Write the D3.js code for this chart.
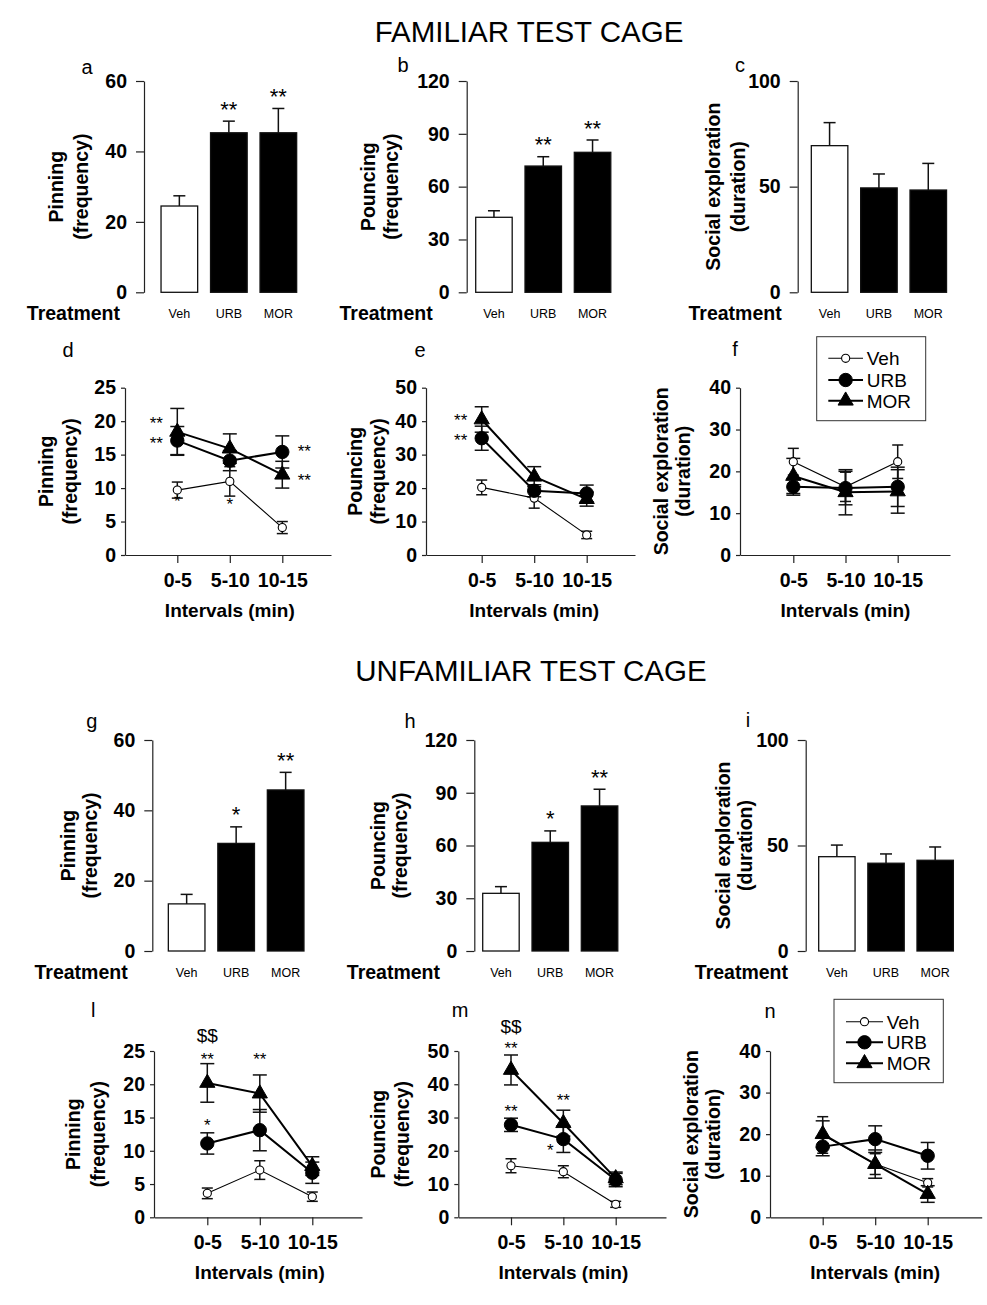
<!DOCTYPE html>
<html><head><meta charset="utf-8">
<script src="https://cdn.jsdelivr.net/npm/d3@7"></script>
<style>body{margin:0;background:#fff}svg{display:block}</style>
</head><body><svg id="chart" width="987" height="1305"></svg>
<script>
// ---------------- DATA ----------------
const treatments = ["Veh", "URB", "MOR"];
const intervals = ["0-5", "5-10", "10-15"];
const seriesNames = ["Veh", "URB", "MOR"];

const pinningBarTicks = [0, 20, 40, 60];
const pouncingBarTicks = [0, 30, 60, 90, 120];
const socialBarTicks = [0, 50, 100];
const pinningLineTicks = [0, 5, 10, 15, 20, 25];
const pouncingLineTicks = [0, 10, 20, 30, 40, 50];
const socialLineTicks = [0, 10, 20, 30, 40];

// Familiar test cage – totals
const famPinningMean = [24.5, 45.3, 45.3];
const famPinningSem = [2.9, 3.3, 6.9];
const famPinningSig = ["", "**", "**"];
const famPouncingMean = [42.6, 71.7, 79.5];
const famPouncingSem = [3.7, 5.3, 7.0];
const famPouncingSig = ["", "**", "**"];
const famSocialMean = [69.4, 49.4, 48.4];
const famSocialSem = [10.9, 6.6, 12.6];
const famSocialSig = ["", "", ""];

// Unfamiliar test cage – totals
const unfPinningMean = [13.4, 30.6, 45.8];
const unfPinningSem = [2.7, 4.7, 5.0];
const unfPinningSig = ["", "*", "**"];
const unfPouncingMean = [32.8, 61.8, 82.5];
const unfPouncingSem = [3.8, 6.5, 9.5];
const unfPouncingSig = ["", "*", "**"];
const unfSocialMean = [44.7, 41.6, 43.0];
const unfSocialSem = [5.5, 4.4, 6.3];
const unfSocialSig = ["", "", ""];

// Familiar – time course (Veh, URB, MOR)
const famPinVeh = [9.7, 11.0, 4.1],  famPinVehSem = [1.2, 2.2, 0.9];
const famPinUrb = [17.1, 14.1, 15.4], famPinUrbSem = [2.1, 1.5, 2.4];
const famPinMor = [18.4, 15.9, 12.0], famPinMorSem = [3.5, 2.2, 2.0];
const famPinAnn = [
  {interval: "0-5", value: 20.3, text: "**", side: "left"},
  {interval: "0-5", value: 17.3, text: "**", side: "left"},
  {interval: "10-15", value: 16.1, text: "**", side: "right"},
  {interval: "10-15", value: 11.7, text: "**", side: "right"},
  {interval: "0-5", value: 8.6, text: "*", side: "center"},
  {interval: "5-10", value: 8.1, text: "*", side: "center"}
];

const famPouVeh = [20.2, 17.0, 6.0],  famPouVehSem = [2.2, 3.0, 1.1];
const famPouUrb = [34.9, 19.2, 18.4], famPouUrbSem = [3.6, 1.8, 2.5];
const famPouMor = [40.5, 23.4, 16.7], famPouMorSem = [3.8, 3.0, 2.1];
const famPouAnn = [
  {interval: "0-5", value: 41.5, text: "**", side: "left"},
  {interval: "0-5", value: 35.6, text: "**", side: "left"}
];

const famSocVeh = [22.3, 16.3, 22.3], famSocVehSem = [3.2, 3.5, 4.0];
const famSocUrb = [16.3, 16.0, 16.3], famSocUrbSem = [2.0, 4.0, 4.7];
const famSocMor = [18.9, 15.0, 15.2], famSocMorSem = [4.2, 5.4, 5.2];
const famSocAnn = [];

// Unfamiliar – time course
const unfPinVeh = [3.6, 7.1, 3.1],   unfPinVehSem = [0.8, 1.4, 0.7];
const unfPinUrb = [11.1, 13.1, 6.7], unfPinUrbSem = [1.6, 3.1, 1.6];
const unfPinMor = [20.2, 18.6, 7.7], unfPinMorSem = [2.9, 2.8, 1.4];
const unfPinAnn = [
  {interval: "0-5", value: 27.4, text: "$$", side: "center"},
  {interval: "0-5", value: 24.4, text: "**", side: "center"},
  {interval: "5-10", value: 24.4, text: "**", side: "center"},
  {interval: "0-5", value: 14.4, text: "*", side: "center"}
];

const unfPouVeh = [15.5, 13.7, 3.9],  unfPouVehSem = [2.1, 1.8, 0.9];
const unfPouUrb = [27.8, 23.5, 11.2], unfPouUrbSem = [2.0, 4.0, 2.0];
const unfPouMor = [44.3, 28.3, 11.7], unfPouMorSem = [4.5, 3.9, 1.9];
const unfPouAnn = [
  {interval: "0-5", value: 57.3, text: "$$", side: "center"},
  {interval: "0-5", value: 52.1, text: "**", side: "center"},
  {interval: "0-5", value: 33.1, text: "**", side: "center"},
  {interval: "5-10", value: 36.3, text: "**", side: "center"},
  {interval: "5-10", value: 21.2, text: "*", side: "nearLeft"}
];

const unfSocVeh = [19.8, 12.8, 8.3],  unfSocVehSem = [4.4, 2.5, 1.0];
const unfSocUrb = [17.0, 18.8, 14.8], unfSocUrbSem = [2.2, 3.2, 3.2];
const unfSocMor = [20.0, 12.8, 5.6],  unfSocMorSem = [3.2, 3.4, 2.0];
const unfSocAnn = [];

// ---------------- DRAWING ----------------
const FONT = '"Liberation Sans", Arial, Helvetica, sans-serif';
const svg = d3.select("#chart");
const INK = "#111";
const TICK_FS = 19.5;

function txt(g, x, y, s, size, weight, anchor) {
  return g.append("text").attr("x", x).attr("y", y)
    .attr("text-anchor", anchor || "start")
    .style("font-family", FONT).style("font-size", size + "px")
    .style("font-weight", weight || "normal").attr("fill", "#000").text(s);
}

function styleAxis(sel) {
  sel.select(".domain").attr("stroke", "#222").attr("stroke-width", 1.2);
  sel.selectAll(".tick line").attr("stroke", "#222").attr("stroke-width", 1.2);
  sel.selectAll(".tick text").attr("fill", "#000")
    .style("font-family", FONT).style("font-size", TICK_FS + "px").style("font-weight", "bold");
}

function yTitle(g, lines, xs, yc) {
  lines.forEach((t, i) => {
    g.append("text")
      .attr("transform", `translate(${xs[i] + 5},${yc}) rotate(-90)`)
      .attr("text-anchor", "middle")
      .style("font-family", FONT).style("font-size", "19.5px").style("font-weight", "bold")
      .attr("fill", "#000").text(t);
  });
}

// significance marks; visual centre placed at (x, yc)
function star(g, x, yc, s, fs) {
  if (s === "$$") { txt(g, x, yc + 6.5, s, 19, "normal", "middle"); return; }
  txt(g, x, yc + fs * 0.57, s, fs, "normal", "middle");
}

function barPanel(L, mean, sem, sig, ticks, titleLines) {
  const g = svg.append("g");
  const y = d3.scaleLinear().domain([0, d3.max(ticks)]).range([L.bottom, L.top]);
  const x = d3.scaleBand().domain(treatments)
    .range([L.bar0, L.bar0 + 3 * L.step]).paddingInner(0.26).paddingOuter(0.13);
  const ax = g.append("g").attr("transform", `translate(${L.axisX},0)`)
    .call(d3.axisLeft(y).tickValues(ticks).tickSize(8).tickPadding(9).tickSizeOuter(0).tickFormat(d3.format("d")));
  styleAxis(ax);

  const data = treatments.map((t, i) => ({t, m: mean[i], s: sem[i], sig: sig[i]}));
  g.selectAll("rect.bar").data(data).join("rect").attr("class", "bar")
    .attr("x", d => x(d.t)).attr("width", x.bandwidth())
    .attr("y", d => y(d.m)).attr("height", d => y(0) - y(d.m))
    .attr("fill", d => d.t === "Veh" ? "#fff" : "#000")
    .attr("stroke", "#111").attr("stroke-width", 1.3);
  const cx = d => x(d.t) + x.bandwidth() / 2;
  g.selectAll("line.err").data(data).join("line").attr("class", "err")
    .attr("x1", cx).attr("x2", cx).attr("y1", d => y(d.m)).attr("y2", d => y(d.m + d.s))
    .attr("stroke", INK).attr("stroke-width", 1.5);
  g.selectAll("line.cap").data(data).join("line").attr("class", "cap")
    .attr("x1", d => cx(d) - 6).attr("x2", d => cx(d) + 6)
    .attr("y1", d => y(d.m + d.s)).attr("y2", d => y(d.m + d.s))
    .attr("stroke", INK).attr("stroke-width", 1.5);
  data.forEach(d => {
    if (d.sig) star(g, cx(d), y(d.m + d.s) - 17, d.sig, 22);
    txt(g, cx(d), L.catBase, d.t, 12.5, "normal", "middle");
  });
  txt(g, L.treatEnd, L.treatBase, "Treatment", 19.5, "bold", "end");
  yTitle(g, titleLines, [L.t1, L.t2], (L.top + L.bottom) / 2);
  txt(g, L.lx, L.ly, L.letter, 20, "normal", "middle");
}

const markerSym = {
  Veh: d3.symbol().type(d3.symbolCircle).size(52),
  URB: d3.symbol().type(d3.symbolCircle).size(140),
  MOR: d3.symbol().type(d3.symbolTriangle).size(100)
};
const lineW = {Veh: 1.1, URB: 2, MOR: 2};
const sideDx = {left: -21, right: 22, center: 0, nearLeft: -13};

function drawMarker(g, name, px, py) {
  g.append("path").attr("d", markerSym[name]())
    .attr("transform", `translate(${px},${py})`)
    .attr("fill", name === "Veh" ? "#fff" : "#000")
    .attr("stroke", "#000").attr("stroke-width", name === "Veh" ? 1.1 : 1);
}

function linePanel(L, series, ann, ticks, titleLines) {
  const g = svg.append("g");
  const y = d3.scaleLinear().domain([0, d3.max(ticks)]).range([L.bottom, L.top]);
  const step = (L.tick2 - L.tick0) / 2;
  const pad = ((L.axisEnd - L.axisX) / step - 2) / 2;
  const align = (L.tick0 - L.axisX) / (L.axisEnd - L.axisX - 2 * step);
  const x = d3.scalePoint().domain(intervals).range([L.axisX, L.axisEnd]).padding(pad).align(align);

  const ay = g.append("g").attr("transform", `translate(${L.axisX},0)`)
    .call(d3.axisLeft(y).tickValues(ticks).tickSize(4).tickPadding(5).tickSizeOuter(0));
  styleAxis(ay);
  const axb = g.append("g").attr("transform", `translate(0,${L.bottom})`)
    .call(d3.axisBottom(x).tickSize(8).tickPadding(10).tickSizeOuter(0));
  styleAxis(axb);
  txt(g, x("5-10"), L.bottom + 62, "Intervals (min)", 19, "bold", "middle");

  // error bars
  series.forEach(s => {
    const cap = s.name === "Veh" ? 5.5 : 7;
    intervals.forEach((iv, i) => {
      const px = x(iv), lo = y(s.mean[i] - s.sem[i]), hi = y(s.mean[i] + s.sem[i]);
      g.append("line").attr("x1", px).attr("x2", px).attr("y1", lo).attr("y2", hi)
        .attr("stroke", INK).attr("stroke-width", 1.5);
      [lo, hi].forEach(v => g.append("line").attr("x1", px - cap).attr("x2", px + cap)
        .attr("y1", v).attr("y2", v).attr("stroke", INK).attr("stroke-width", 1.5));
    });
  });
  // lines
  const lineGen = d3.line().x((d, i) => x(intervals[i])).y(d => y(d));
  series.forEach(s => {
    g.append("path").attr("d", lineGen(s.mean)).attr("fill", "none")
      .attr("stroke", "#000").attr("stroke-width", lineW[s.name]);
  });
  // markers
  series.forEach(s => s.mean.forEach((v, i) => drawMarker(g, s.name, x(intervals[i]), y(v))));
  // annotations
  ann.forEach(a => star(g, x(a.interval) + sideDx[a.side], y(a.value), a.text, 17));
  yTitle(g, titleLines, [L.t1, L.t2], (L.top + L.bottom) / 2);
  txt(g, L.lx, L.ly, L.letter, 20, "normal", "middle");

  if (L.legend) {
    const Lg = L.legend;
    g.append("rect").attr("x", Lg.x0).attr("y", Lg.y0)
      .attr("width", Lg.x1 - Lg.x0).attr("height", Lg.y1 - Lg.y0)
      .attr("fill", "#fff").attr("stroke", "#333").attr("stroke-width", 1);
    seriesNames.forEach((n, i) => {
      const ly = Lg.ys[i];
      g.append("line").attr("x1", Lg.lineX0).attr("x2", Lg.lineX1).attr("y1", ly).attr("y2", ly)
        .attr("stroke", "#000").attr("stroke-width", lineW[n]);
      drawMarker(g, n, (Lg.lineX0 + Lg.lineX1) / 2, ly);
      txt(g, Lg.textX, ly + 7, n, 19, "normal", "start");
    });
  }
}

function mkSeries(v, vs, u, us, m, ms) {
  return [
    {name: "Veh", mean: v, sem: vs},
    {name: "URB", mean: u, sem: us},
    {name: "MOR", mean: m, sem: ms}
  ];
}

// Section titles
txt(svg, 529, 42, "FAMILIAR TEST CAGE", 29.5, "normal", "middle");
txt(svg, 531, 681, "UNFAMILIAR TEST CAGE", 29.5, "normal", "middle");

const pinT = ["Pinning", "(frequency)"];
const pouT = ["Pouncing", "(frequency)"];
const socT = ["Social exploration", "(duration)"];

// Top bar row
const rowTop = {top: 81, bottom: 292.3, catBase: 318.3, treatBase: 320};
barPanel({...rowTop, axisX: 144, bar0: 154.6, step: 49.5, treatEnd: 120, t1: 58, t2: 83, letter: "a", lx: 87, ly: 74},
  famPinningMean, famPinningSem, famPinningSig, pinningBarTicks, pinT);
barPanel({...rowTop, axisX: 466.7, bar0: 469.3, step: 49.3, treatEnd: 432.7, t1: 370, t2: 393.3, letter: "b", lx: 403, ly: 72},
  famPouncingMean, famPouncingSem, famPouncingSig, pouncingBarTicks, pouT);
barPanel({...rowTop, axisX: 797.7, bar0: 804.9, step: 49.35, treatEnd: 781.7, t1: 715, t2: 740, letter: "c", lx: 740, ly: 72},
  famSocialMean, famSocialSem, famSocialSig, socialBarTicks, socT);

// Familiar line row
const rowD = {top: 387.7, bottom: 555};
linePanel({...rowD, axisX: 125, axisEnd: 331, tick0: 177.3, tick2: 282.3, t1: 48.3, t2: 71.7, letter: "d", lx: 68, ly: 356.7},
  mkSeries(famPinVeh, famPinVehSem, famPinUrb, famPinUrbSem, famPinMor, famPinMorSem), famPinAnn, pinningLineTicks, pinT);
linePanel({...rowD, axisX: 426, axisEnd: 635, tick0: 481.7, tick2: 586.7, t1: 356.7, t2: 380, letter: "e", lx: 420, ly: 356.7},
  mkSeries(famPouVeh, famPouVehSem, famPouUrb, famPouUrbSem, famPouMor, famPouMorSem), famPouAnn, pouncingLineTicks, pouT);
linePanel({...rowD, axisX: 740, axisEnd: 950, tick0: 793.3, tick2: 897.7, t1: 663, t2: 685, letter: "f", lx: 735, ly: 356,
  legend: {x0: 816.7, y0: 336.7, x1: 925.7, y1: 420.7, ys: [358.3, 380, 400.7], lineX0: 828.3, lineX1: 863, textX: 866.7}},
  mkSeries(famSocVeh, famSocVehSem, famSocUrb, famSocUrbSem, famSocMor, famSocMorSem), famSocAnn, socialLineTicks, socT);

// Unfamiliar bar row
const rowG = {top: 740, bottom: 951, catBase: 977.3, treatBase: 979.3};
barPanel({...rowG, axisX: 152.3, bar0: 161.9, step: 49.5, treatEnd: 127.7, t1: 70, t2: 91.7, letter: "g", lx: 91.7, ly: 728},
  unfPinningMean, unfPinningSem, unfPinningSig, pinningBarTicks, pinT);
barPanel({...rowG, axisX: 474.3, bar0: 476.3, step: 49.3, treatEnd: 440, t1: 380, t2: 401.7, letter: "h", lx: 410, ly: 728.3},
  unfPouncingMean, unfPouncingSem, unfPouncingSig, pouncingBarTicks, pouT);
barPanel({...rowG, axisX: 805.7, bar0: 812.3, step: 49.15, treatEnd: 788, t1: 725, t2: 746.7, letter: "i", lx: 748, ly: 727.3},
  unfSocialMean, unfSocialSem, unfSocialSig, socialBarTicks, socT);

// Unfamiliar line row
const rowL = {top: 1051, bottom: 1217.3};
linePanel({...rowL, axisX: 154, axisEnd: 362, tick0: 207.3, tick2: 312.3, t1: 75, t2: 100, letter: "l", lx: 93.3, ly: 1017.3},
  mkSeries(unfPinVeh, unfPinVehSem, unfPinUrb, unfPinUrbSem, unfPinMor, unfPinMorSem), unfPinAnn, pinningLineTicks, pinT);
linePanel({...rowL, axisX: 458.3, axisEnd: 666, tick0: 511, tick2: 615.7, t1: 380, t2: 404, letter: "m", lx: 460, ly: 1016.7},
  mkSeries(unfPouVeh, unfPouVehSem, unfPouUrb, unfPouUrbSem, unfPouMor, unfPouMorSem), unfPouAnn, pouncingLineTicks, pouT);
linePanel({...rowL, axisX: 770, axisEnd: 981.7, tick0: 822.7, tick2: 927.7, t1: 693.3, t2: 715, letter: "n", lx: 770, ly: 1018.3,
  legend: {x0: 834, y0: 999.3, x1: 943.3, y1: 1082.7, ys: [1021.7, 1042.3, 1063.3], lineX0: 846, lineX1: 883, textX: 886.7}},
  mkSeries(unfSocVeh, unfSocVehSem, unfSocUrb, unfSocUrbSem, unfSocMor, unfSocMorSem), unfSocAnn, socialLineTicks, socT);
</script>
</body></html>
